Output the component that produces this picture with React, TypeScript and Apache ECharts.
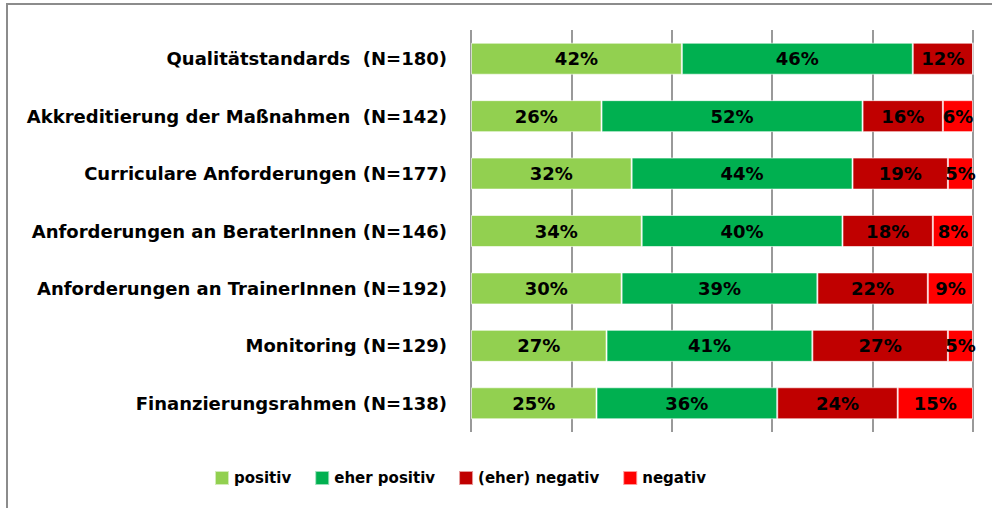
import React, { useEffect, useRef } from "react";
import * as echarts from "echarts";

const categories = [
  "Qualitätstandards  (N=180)",
  "Akkreditierung der Maßnahmen  (N=142)",
  "Curriculare Anforderungen (N=177)",
  "Anforderungen an BeraterInnen (N=146)",
  "Anforderungen an TrainerInnen (N=192)",
  "Monitoring (N=129)",
  "Finanzierungsrahmen (N=138)",
];
const positiv = [42, 26, 32, 34, 30, 27, 25];
const eherPositiv = [46, 52, 44, 40, 39, 41, 36];
const eherNegativ = [12, 16, 19, 18, 22, 27, 24];
const negativ = [0, 6, 5, 8, 9, 5, 15];
const seriesNames = ["positiv", "eher positiv", "(eher) negativ", "negativ"];
const colors = ["#92D050", "#00B050", "#C00000", "#FF0000"];

const FONT = "'DejaVu Sans', sans-serif";

export default function App() {
  const ref = useRef<HTMLDivElement>(null);
  useEffect(() => {
    if (!ref.current) return;
    const chart = echarts.init(ref.current, null, { renderer: "svg" });
    const data = [positiv, eherPositiv, eherNegativ, negativ];
    chart.setOption({
      animation: false,
      backgroundColor: "#fff",
      textStyle: { fontFamily: FONT },
      graphic: [
        { type: "line", shape: { x1: 6, y1: 4, x2: 992, y2: 4 }, style: { stroke: "#8c8c8c", lineWidth: 2 } },
        { type: "line", shape: { x1: 7, y1: 4, x2: 7, y2: 508 }, style: { stroke: "#8c8c8c", lineWidth: 2 } },
      ],
      grid: { left: 471, right: 19, top: 30, bottom: 76 },
      legend: {
        top: 465,
        left: 209,
        itemWidth: 14,
        itemHeight: 14,
        itemGap: 23,
        icon: "rect",
        data: seriesNames,
        textStyle: { fontFamily: FONT, fontSize: 15, fontWeight: "bold", color: "#000" },
      },
      xAxis: {
        type: "value",
        min: 0,
        max: 100,
        interval: 20,
        axisLabel: { show: false },
        axisLine: { show: false },
        axisTick: { show: false },
        splitLine: { show: true, lineStyle: { color: "#999", width: 2 } },
      },
      yAxis: {
        type: "category",
        inverse: true,
        data: categories,
        axisLine: { show: false },
        axisTick: { show: false },
        axisLabel: {
          margin: 24,
          fontFamily: FONT,
          fontSize: 18,
          fontWeight: "bold",
          color: "#000",
        },
      },
      series: seriesNames.map((name, i) => ({
        name,
        type: "bar",
        stack: "total",
        barWidth: 32,
        data: data[i],
        itemStyle: { color: colors[i], borderColor: "rgba(255,255,255,0.6)", borderWidth: 1 },
        label: {
          show: true,
          position: "inside",
          fontFamily: FONT,
          fontSize: 18,
          fontWeight: "bold",
          color: "#000",
          formatter: (p: any) => (p.value > 0 ? p.value + "%" : ""),
        },
      })),
    });
    return () => chart.dispose();
  }, []);
  return <div ref={ref} style={{ position: "absolute", left: 0, top: 0, width: 992, height: 508 }} />;
}
